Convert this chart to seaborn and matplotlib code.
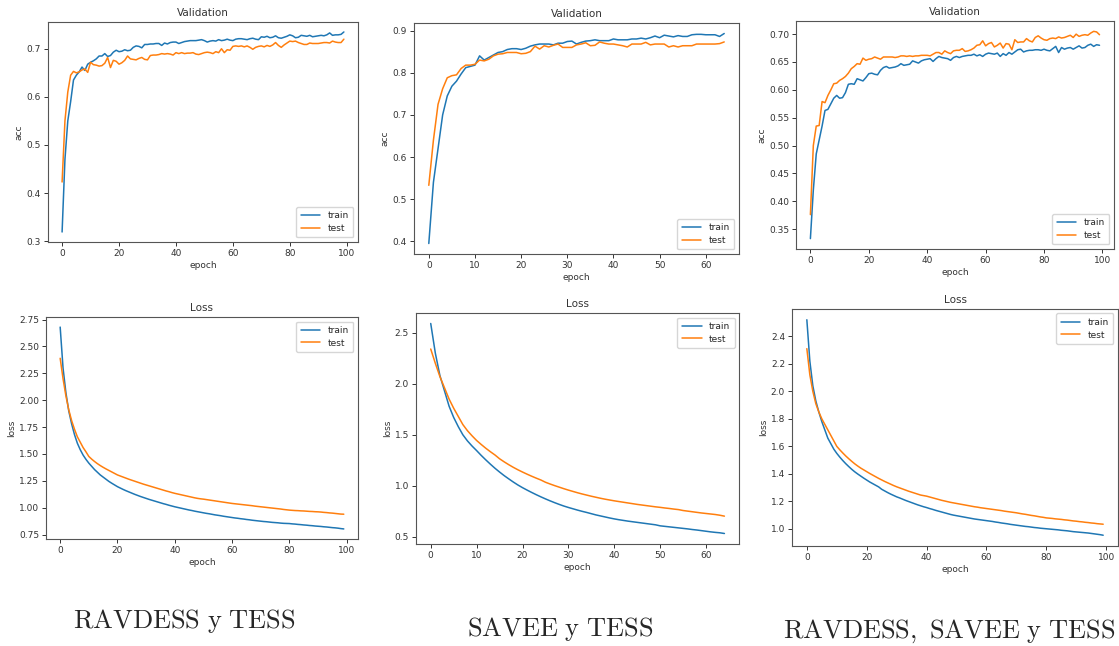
import pandas as pd
import matplotlib
matplotlib.use("Agg")
import matplotlib.pyplot as plt
import seaborn as sns

# RAVDESS y TESS (100 epochs)
rt_acc_train = [
    0.319, 0.47, 0.55, 0.59, 0.635, 0.645, 0.652, 0.662, 0.655, 0.668,
    0.672, 0.675, 0.679, 0.685, 0.685, 0.690, 0.684, 0.686, 0.693, 0.697,
    0.694, 0.695, 0.698, 0.696, 0.697, 0.703, 0.706, 0.705, 0.702, 0.709,
    0.709, 0.710, 0.710, 0.711, 0.711, 0.707, 0.712, 0.710, 0.713, 0.714,
    0.714, 0.711, 0.713, 0.715, 0.716, 0.717, 0.717, 0.717, 0.718, 0.719,
    0.717, 0.714, 0.716, 0.717, 0.716, 0.719, 0.717, 0.718, 0.720, 0.718,
    0.717, 0.720, 0.721, 0.721, 0.720, 0.719, 0.721, 0.722, 0.720, 0.719,
    0.725, 0.724, 0.726, 0.723, 0.724, 0.727, 0.723, 0.722, 0.724, 0.726,
    0.729, 0.727, 0.723, 0.724, 0.728, 0.727, 0.726, 0.728, 0.725, 0.726,
    0.727, 0.728, 0.727, 0.729, 0.733, 0.728, 0.729, 0.729, 0.730, 0.735]
rt_acc_test = [
    0.423, 0.55, 0.61, 0.645, 0.653, 0.650, 0.652, 0.656, 0.658, 0.651,
    0.672, 0.667, 0.666, 0.664, 0.665, 0.670, 0.682, 0.661, 0.676, 0.674,
    0.668, 0.671, 0.676, 0.685, 0.679, 0.678, 0.677, 0.680, 0.682, 0.678,
    0.677, 0.686, 0.687, 0.687, 0.688, 0.690, 0.689, 0.690, 0.689, 0.687,
    0.692, 0.690, 0.692, 0.690, 0.691, 0.691, 0.692, 0.689, 0.688, 0.690,
    0.692, 0.693, 0.692, 0.690, 0.694, 0.692, 0.700, 0.692, 0.698, 0.697,
    0.705, 0.706, 0.705, 0.706, 0.704, 0.706, 0.703, 0.699, 0.703, 0.705,
    0.706, 0.704, 0.707, 0.705, 0.708, 0.713, 0.707, 0.703, 0.708, 0.712,
    0.716, 0.715, 0.716, 0.713, 0.711, 0.709, 0.709, 0.712, 0.711, 0.711,
    0.711, 0.712, 0.713, 0.713, 0.712, 0.716, 0.714, 0.713, 0.713, 0.720]
rt_loss_train = [
    2.68, 2.30, 2.07, 1.90, 1.78, 1.68, 1.60, 1.54, 1.49, 1.45,
    1.415, 1.385, 1.355, 1.330, 1.305, 1.285, 1.265, 1.245, 1.228, 1.212,
    1.196, 1.183, 1.170, 1.158, 1.147, 1.136, 1.125, 1.115, 1.105, 1.096,
    1.087, 1.078, 1.070, 1.062, 1.054, 1.046, 1.038, 1.031, 1.023, 1.016,
    1.009, 1.003, 0.997, 0.991, 0.985, 0.979, 0.974, 0.968, 0.963, 0.958,
    0.953, 0.948, 0.944, 0.939, 0.934, 0.930, 0.926, 0.921, 0.917, 0.913,
    0.909, 0.905, 0.902, 0.898, 0.895, 0.891, 0.888, 0.884, 0.881, 0.878,
    0.875, 0.872, 0.870, 0.867, 0.864, 0.862, 0.860, 0.857, 0.855, 0.854,
    0.853, 0.850, 0.848, 0.845, 0.843, 0.840, 0.838, 0.835, 0.833, 0.830,
    0.828, 0.826, 0.823, 0.821, 0.818, 0.815, 0.813, 0.810, 0.806, 0.803]
rt_loss_test = [
    2.39, 2.20, 2.04, 1.91, 1.81, 1.73, 1.66, 1.61, 1.56, 1.52,
    1.477, 1.452, 1.430, 1.410, 1.392, 1.376, 1.361, 1.347, 1.333, 1.319,
    1.305, 1.295, 1.285, 1.275, 1.265, 1.256, 1.247, 1.238, 1.229, 1.220,
    1.212, 1.204, 1.196, 1.188, 1.180, 1.172, 1.164, 1.156, 1.149, 1.141,
    1.134, 1.128, 1.122, 1.116, 1.110, 1.104, 1.098, 1.092, 1.087, 1.083,
    1.080, 1.076, 1.072, 1.068, 1.064, 1.060, 1.056, 1.052, 1.048, 1.044,
    1.040, 1.037, 1.034, 1.031, 1.028, 1.025, 1.022, 1.019, 1.015, 1.012,
    1.009, 1.006, 1.003, 1.000, 0.997, 0.994, 0.991, 0.988, 0.984, 0.981,
    0.978, 0.976, 0.974, 0.973, 0.971, 0.970, 0.968, 0.966, 0.965, 0.963,
    0.962, 0.960, 0.957, 0.955, 0.952, 0.950, 0.947, 0.944, 0.941, 0.940]

# SAVEE y TESS (65 epochs)
st_acc_train = [
    0.395, 0.54, 0.62, 0.70, 0.745, 0.768, 0.78, 0.797, 0.812, 0.815,
    0.818, 0.84, 0.83, 0.836, 0.842, 0.848, 0.85, 0.855, 0.857, 0.857,
    0.855, 0.858, 0.863, 0.866, 0.868, 0.868, 0.868, 0.866, 0.87, 0.87,
    0.874, 0.875, 0.868, 0.872, 0.875, 0.876, 0.878, 0.876, 0.876, 0.876,
    0.88, 0.878, 0.878, 0.878, 0.88, 0.88, 0.882, 0.88, 0.883, 0.887,
    0.883, 0.889, 0.887, 0.885, 0.888, 0.886, 0.886, 0.89, 0.891, 0.891,
    0.89, 0.89, 0.89, 0.886, 0.893]
st_acc_test = [
    0.533, 0.64, 0.725, 0.762, 0.788, 0.793, 0.795, 0.81, 0.818, 0.818,
    0.82, 0.83, 0.828, 0.832, 0.84, 0.844, 0.845, 0.848, 0.848, 0.848,
    0.845, 0.846, 0.85, 0.863, 0.856, 0.864, 0.861, 0.865, 0.868, 0.86,
    0.86, 0.86, 0.866, 0.868, 0.871, 0.864, 0.865, 0.873, 0.87, 0.868,
    0.868, 0.866, 0.864, 0.861, 0.868, 0.868, 0.868, 0.872, 0.866, 0.868,
    0.868, 0.868, 0.861, 0.864, 0.861, 0.864, 0.864, 0.864, 0.868, 0.868,
    0.868, 0.868, 0.868, 0.869, 0.873]
st_loss_train = [
    2.59, 2.30, 2.08, 1.93, 1.78, 1.67, 1.58, 1.50, 1.44, 1.39,
    1.345, 1.298, 1.254, 1.212, 1.172, 1.135, 1.100, 1.068, 1.037, 1.008,
    0.982, 0.958, 0.935, 0.913, 0.892, 0.872, 0.853, 0.835, 0.818, 0.802,
    0.788, 0.775, 0.762, 0.750, 0.739, 0.727, 0.715, 0.705, 0.695, 0.685,
    0.676, 0.668, 0.661, 0.654, 0.648, 0.642, 0.636, 0.630, 0.624, 0.618,
    0.608, 0.603, 0.598, 0.593, 0.588, 0.583, 0.578, 0.572, 0.567, 0.561,
    0.555, 0.549, 0.544, 0.540, 0.533]
st_loss_test = [
    2.34, 2.20, 2.07, 1.96, 1.85, 1.76, 1.68, 1.60, 1.54, 1.49,
    1.444, 1.405, 1.368, 1.334, 1.302, 1.265, 1.235, 1.207, 1.181, 1.157,
    1.135, 1.114, 1.094, 1.075, 1.057, 1.035, 1.018, 1.002, 0.987, 0.972,
    0.958, 0.945, 0.932, 0.920, 0.909, 0.898, 0.888, 0.878, 0.869, 0.861,
    0.853, 0.846, 0.839, 0.832, 0.825, 0.818, 0.812, 0.806, 0.800, 0.794,
    0.789, 0.783, 0.778, 0.772, 0.767, 0.758, 0.752, 0.746, 0.740, 0.734,
    0.729, 0.724, 0.719, 0.712, 0.703]

# RAVDESS, SAVEE y TESS (100 epochs)
rst_acc_train = [
    0.333, 0.42, 0.485, 0.51, 0.535, 0.563, 0.565, 0.575, 0.585, 0.59,
    0.585, 0.586, 0.595, 0.61, 0.611, 0.61, 0.62, 0.618, 0.616, 0.622,
    0.629, 0.63, 0.628, 0.627, 0.635, 0.64, 0.642, 0.639, 0.64, 0.641,
    0.643, 0.647, 0.644, 0.645, 0.646, 0.652, 0.65, 0.648, 0.652, 0.654,
    0.655, 0.656, 0.651, 0.656, 0.66, 0.658, 0.657, 0.656, 0.653, 0.658,
    0.66, 0.658, 0.66, 0.661, 0.662, 0.662, 0.664, 0.661, 0.663, 0.66,
    0.664, 0.666, 0.665, 0.664, 0.666, 0.66, 0.665, 0.662, 0.667, 0.664,
    0.668, 0.672, 0.673, 0.668, 0.67, 0.671, 0.671, 0.672, 0.672, 0.671,
    0.673, 0.671, 0.67, 0.674, 0.678, 0.667, 0.676, 0.673, 0.675, 0.676,
    0.673, 0.676, 0.679, 0.675, 0.676, 0.68, 0.682, 0.678, 0.681, 0.68]
rst_acc_test = [
    0.376, 0.50, 0.535, 0.536, 0.579, 0.577, 0.59, 0.60, 0.611, 0.612,
    0.617, 0.62, 0.624, 0.63, 0.638, 0.642, 0.647, 0.646, 0.657, 0.653,
    0.655, 0.656, 0.659, 0.657, 0.655, 0.659, 0.659, 0.659, 0.659, 0.658,
    0.659, 0.661, 0.661, 0.66, 0.661, 0.66, 0.661, 0.661, 0.662, 0.662,
    0.662, 0.661, 0.664, 0.667, 0.667, 0.664, 0.67, 0.667, 0.665, 0.67,
    0.671, 0.671, 0.674, 0.669, 0.67, 0.672, 0.675, 0.68, 0.681, 0.688,
    0.679, 0.683, 0.685, 0.677, 0.68, 0.684, 0.675, 0.683, 0.682, 0.672,
    0.69, 0.685, 0.686, 0.686, 0.692, 0.688, 0.686, 0.694, 0.697, 0.693,
    0.69, 0.689, 0.692, 0.693, 0.692, 0.695, 0.693, 0.694, 0.696, 0.698,
    0.694, 0.70, 0.696, 0.698, 0.699, 0.698, 0.702, 0.705, 0.704, 0.699]
rst_loss_train = [
    2.52, 2.22, 2.04, 1.93, 1.85, 1.78, 1.72, 1.66, 1.62, 1.58,
    1.549, 1.522, 1.497, 1.474, 1.453, 1.433, 1.415, 1.399, 1.384, 1.369,
    1.355, 1.341, 1.329, 1.317, 1.305, 1.288, 1.276, 1.264, 1.253, 1.243,
    1.233, 1.225, 1.216, 1.207, 1.199, 1.191, 1.183, 1.175, 1.168, 1.161,
    1.155, 1.148, 1.142, 1.135, 1.129, 1.123, 1.117, 1.111, 1.105, 1.100,
    1.096, 1.092, 1.088, 1.084, 1.080, 1.076, 1.072, 1.069, 1.066, 1.063,
    1.060, 1.057, 1.054, 1.050, 1.047, 1.043, 1.040, 1.037, 1.033, 1.030,
    1.027, 1.024, 1.021, 1.018, 1.016, 1.013, 1.010, 1.008, 1.005, 1.003,
    1.001, 0.999, 0.997, 0.995, 0.993, 0.990, 0.988, 0.986, 0.983, 0.980,
    0.978, 0.976, 0.974, 0.972, 0.970, 0.967, 0.964, 0.961, 0.958, 0.954]
rst_loss_test = [
    2.31, 2.12, 2.00, 1.91, 1.85, 1.80, 1.76, 1.72, 1.68, 1.64,
    1.600, 1.575, 1.552, 1.530, 1.510, 1.491, 1.473, 1.457, 1.442, 1.429,
    1.416, 1.403, 1.391, 1.379, 1.367, 1.356, 1.345, 1.335, 1.325, 1.315,
    1.306, 1.298, 1.290, 1.282, 1.274, 1.267, 1.260, 1.253, 1.246, 1.242,
    1.238, 1.232, 1.226, 1.220, 1.214, 1.208, 1.203, 1.198, 1.193, 1.189,
    1.185, 1.181, 1.177, 1.173, 1.169, 1.165, 1.161, 1.158, 1.154, 1.151,
    1.148, 1.145, 1.142, 1.139, 1.136, 1.133, 1.129, 1.126, 1.123, 1.120,
    1.117, 1.113, 1.109, 1.106, 1.102, 1.098, 1.095, 1.091, 1.087, 1.084,
    1.080, 1.078, 1.076, 1.073, 1.071, 1.069, 1.066, 1.064, 1.061, 1.058,
    1.056, 1.053, 1.051, 1.048, 1.046, 1.043, 1.041, 1.038, 1.036, 1.034]

captions = ["RAVDESS y TESS", "SAVEE y TESS", "RAVDESS, SAVEE y TESS"]

sns.set_style("ticks")
plt.rcParams["mathtext.fontset"] = "cm"
plt.rcParams["font.family"] = ["DejaVu Sans"]

palette = {"train": "#1f77b4", "test": "#ff7f0e"}


def make_df(train, test):
    n = len(train)
    return pd.DataFrame({
        "epoch": list(range(n)) * 2,
        "value": train + test,
        "series": ["train"] * n + ["test"] * n,
    })


fig = plt.figure(figsize=(11.19, 6.46), dpi=100)

# [left, bottom, width, height] in figure fraction
panels = [
    ([0.0429, 0.6254, 0.2770, 0.3406], rt_acc_train, rt_acc_test, "Validation", "acc", "lower right"),
    ([0.3700, 0.6068, 0.2904, 0.3576], st_acc_train, st_acc_test, "Validation", "acc", "lower right"),
    ([0.7113, 0.6146, 0.2842, 0.3529], rst_acc_train, rst_acc_test, "Validation", "acc", "lower right"),
    ([0.0411, 0.1656, 0.2788, 0.3437], rt_loss_train, rt_loss_test, "Loss", "loss", "upper right"),
    ([0.3718, 0.1579, 0.2887, 0.3576], st_loss_train, st_loss_test, "Loss", "loss", "upper right"),
    ([0.7078, 0.1548, 0.2913, 0.3669], rst_loss_train, rst_loss_test, "Loss", "loss", "upper right"),
]

for rect, train, test, title, ylabel, loc in panels:
    ax = fig.add_axes(rect)
    df = make_df(train, test)
    sns.lineplot(data=df, x="epoch", y="value", hue="series", palette=palette,
                 linewidth=1.1, ax=ax)
    ax.set_title(title, fontsize=7.5, color="#333333", pad=4)
    ax.set_xlabel("epoch", fontsize=6.5, color="#333333", labelpad=2)
    ax.set_ylabel(ylabel, fontsize=6.5, color="#333333", labelpad=2)
    ax.tick_params(labelsize=6.5, length=3, width=0.7, pad=2, colors="#333333")
    for s in ax.spines.values():
        s.set_linewidth(0.8)
        s.set_color("#555555")
    ax.legend(loc=loc, fontsize=6.5, handlelength=2.2, borderpad=0.5,
              labelspacing=0.4)

# captions under each column (x centre, baseline y in pixels)
for x, y, txt in [(184, 628, captions[0]), (560, 636, captions[1]), (949, 638, captions[2])]:
    fig.text(x / 1119, 1 - y / 646, "$\\mathrm{" + txt.replace(" ", "\\ ") + "}$",
             fontsize=19, ha="center", va="baseline")

fig.savefig("out.png", dpi=100)
